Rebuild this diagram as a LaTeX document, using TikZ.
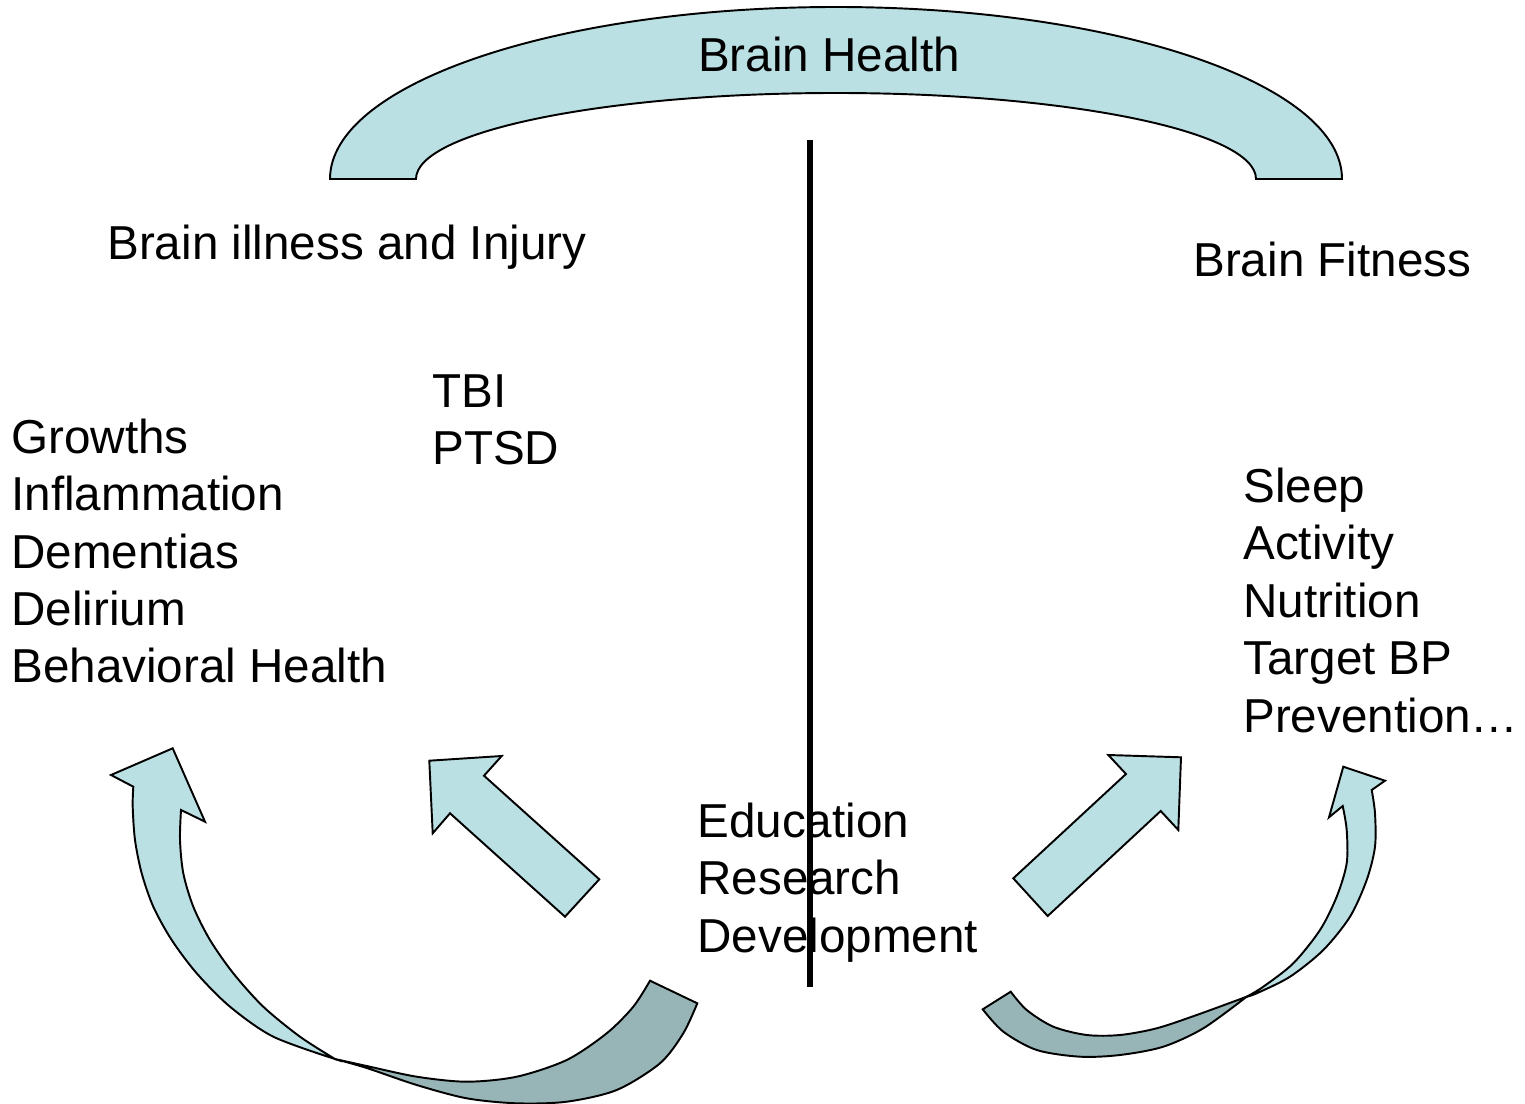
\documentclass[tikz,border=0pt]{standalone}
\usepackage{fontspec}
\setmainfont{Liberation Sans}
\definecolor{bandlight}{RGB}{187,224,227}
\definecolor{banddark}{RGB}{151,181,183}

\begin{document}
\begin{tikzpicture}[
    x=0.02cm, y=-0.02cm,
    every node/.style={inner sep=0pt, font=\fontsize{27.1}{32.7}\selectfont},
    caption/.style={anchor=base west, align=left},
    blockarrow/.style={fill=bandlight, draw=black, line width=1.1pt, line join=miter},
    underside/.style={fill=banddark, draw=black, line width=1.1pt},
    divider/.style={line width=3.2pt}
]
\useasboundingbox (0,0) rectangle (1525,1104);

% Top arch
\filldraw[blockarrow] (330,179) arc[start angle=180, end angle=360, x radius=506, y radius=172]
    -- (1256,179) arc[start angle=0, end angle=-180, x radius=420, y radius=86] -- cycle;
\node[anchor=base] (health) at (829,72) {Brain Health};

% Headings
\node[caption] (illness) at (107,260) {Brain illness and Injury};
\node[caption] (fitness) at (1193,277) {Brain Fitness};

% Lists (anchored at the baseline of the last line)
\node[caption] (trauma) at (432,465) {TBI\\PTSD};
\node[caption] (disease) at (11,683) {Growths\\Inflammation\\Dementias\\Delirium\\Behavioral Health};
\node[caption] (habits) at (1243,732) {Sleep\\Activity\\Nutrition\\Target BP\\Prevention…};
\node[caption] (core) at (697,952) {Education\\Research\\Development};

% Divider
\coordinate (divtop) at (810,140);
\coordinate (divbot) at (810,987);
\draw[divider] (divtop) -- (divbot);

% Straight block arrows
\filldraw[blockarrow] (429.3,760.7) -- (501.7,756) -- (484,775.7) -- (599.3,879.3)
    -- (565,916.7) -- (450,813.3) -- (432.7,833.3) -- cycle;
\filldraw[blockarrow] (1013.3,878.3) -- (1126,774) -- (1108.3,755) -- (1181,757.3)
    -- (1178.3,830) -- (1160.7,811) -- (1047.7,916) -- cycle;

% Left curved arrow
\filldraw[underside] (335,1059) -- plot[smooth] coordinates {(335,1059) (366.7,1066) (416.7,1076.7)
    (466.7,1081.7) (516.7,1076.7) (566.7,1060) (606.7,1033.3) (633.3,1006.7) (650,980.7)}
    -- (697.3,1003.3) -- plot[smooth] coordinates {(697.3,1003.3) (683.3,1033.3) (660,1063.3)
    (616.7,1090) (566.7,1101.7) (516.7,1103.3) (466.7,1098.3) (416.7,1085) (366.7,1068) (335,1059)} -- cycle;
\filldraw[blockarrow] (172.7,748.3) -- (205,821.7) -- (181,810) -- plot[smooth] coordinates {(181,810)
    (180,840) (183.3,873.3) (193.3,906.7) (210,940) (233.3,973.3) (263.3,1006.7) (300,1036.7) (335,1059)}
    -- plot[smooth] coordinates {(335,1059) (273.3,1036.7) (230,1006.7) (196.7,973.3) (171.7,940)
    (153.3,906.7) (141.7,873.3) (135,840) (132.7,806.7) (133.3,786.7)} -- (111,775) -- cycle;

% Right curved arrow
\filldraw[underside] (1010.7,991.7) -- plot[smooth] coordinates {(1010.7,991.7) (1026.7,1010)
    (1053.3,1026.7) (1086.7,1035) (1120,1035) (1156.7,1028.3) (1196.7,1015) (1246.7,996.7)}
    -- plot[smooth] coordinates {(1246.7,996.7) (1203.3,1028.3) (1163.3,1046.7) (1120,1055)
    (1080,1056.7) (1036.7,1050) (1003.3,1031.7) (982.7,1009.3)} -- cycle;
\filldraw[blockarrow] (1343.3,766.7) -- (1385,780.7) -- (1371.7,790) -- plot[smooth] coordinates {(1371.7,790)
    (1375,813.3) (1375,846.7) (1366.7,880) (1350,916.7) (1323.3,950) (1290,976.7) (1256.7,993.3) (1246.7,996.7)}
    -- plot[smooth] coordinates {(1246.7,996.7) (1263.3,986.7) (1293.3,963.3) (1320,930) (1336.7,896.7)
    (1346.7,863.3) (1346.7,830) (1342.7,806)} -- (1329,817.3) -- cycle;

\end{tikzpicture}
\end{document}
